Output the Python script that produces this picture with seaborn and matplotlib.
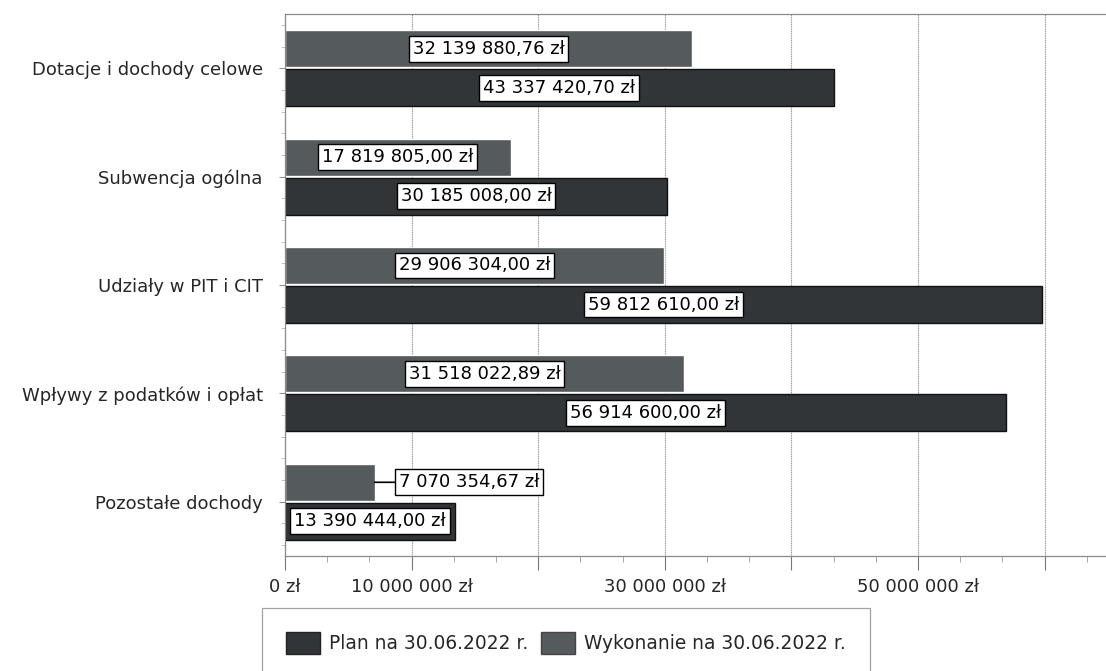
import numpy as np
import pandas as pd
import seaborn as sns
import matplotlib.pyplot as plt
import matplotlib.patches as mpatches
from matplotlib.ticker import MultipleLocator, FuncFormatter

sns.set_theme(style="white")
plt.rcParams['font.family'] = ['DejaVu Sans']

# === Data ===
categories = [
    "Dotacje i dochody celowe",
    "Subwencja ogólna",
    "Udziały w PIT i CIT",
    "Wpływy z podatków i opłat",
    "Pozostałe dochody",
]
plan = [43337420.70, 30185008.00, 59812610.00, 56914600.00, 13390444.00]
wykonanie = [32139880.76, 17819805.00, 29906304.00, 31518022.89, 7070354.67]

plan_name = "Plan na 30.06.2022 r."
wyk_name = "Wykonanie na 30.06.2022 r."
xtick_labeled = [0, 10000000, 30000000, 50000000]

df = pd.DataFrame({
    "Kategoria": categories * 2,
    "Seria": [wyk_name] * len(categories) + [plan_name] * len(categories),
    "Kwota": wykonanie + plan,
})

colors = {wyk_name: "#555a5c", plan_name: "#313538"}


def fmt_zl(v):
    s = f"{v:,.2f}".replace(",", " ").replace(".", ",")
    return s + " zł"


# === Figure ===
fig = plt.figure(figsize=(11.06, 6.71), dpi=100)
ax = fig.add_axes([285 / 1106, 1 - 556 / 671, 1 - 285 / 1106, (556 - 14) / 671])

sns.barplot(
    data=df, y="Kategoria", x="Kwota", hue="Seria",
    hue_order=[wyk_name, plan_name], order=categories,
    palette=colors, orient="h", width=0.72, gap=0.05,
    legend=False, ax=ax, errorbar=None, saturation=1,
)

for bar in ax.containers[1]:
    bar.set_edgecolor("#111111")
    bar.set_linewidth(1.0)

# axes limits / ticks
ax.set_xlim(0, 64850000)
ax.xaxis.set_major_locator(MultipleLocator(10000000))
ax.xaxis.set_minor_locator(MultipleLocator(10000000 / 3))
ax.xaxis.set_major_formatter(FuncFormatter(
    lambda v, p: (f"{int(round(v)):,}".replace(",", " ") + " zł")
    if int(round(v)) in xtick_labeled else ""))
ax.yaxis.set_minor_locator(MultipleLocator(0.2))

ax.tick_params(axis="x", which="major", length=10, width=0.8, color="#777777",
               direction="out", pad=6, labelsize=13, bottom=True)
ax.tick_params(axis="x", which="minor", length=4, width=0.6, color="#999999",
               direction="out", bottom=True)
ax.tick_params(axis="y", which="major", length=4, width=0.6, color="#777777",
               direction="out", pad=12, labelsize=13, left=True)
ax.tick_params(axis="y", which="minor", length=3, width=0.5, color="#aaaaaa",
               direction="out", left=True)
ax.set_xlabel("")
ax.set_ylabel("")

ax.grid(axis="x", which="major", color="#9a9a9a", linewidth=0.8, linestyle=(0, (1, 0.6)))
ax.grid(axis="y", visible=False)
ax.set_axisbelow(True)

for side in ["top", "left", "bottom"]:
    ax.spines[side].set_color("#8a8a8a")
    ax.spines[side].set_linewidth(0.9)
ax.spines["right"].set_visible(False)

# === Data labels ===
box = dict(boxstyle="square,pad=0.22", facecolor="white", edgecolor="black", linewidth=1)

wyk_labels = [fmt_zl(v) for v in wykonanie]
wyk_labels[-1] = ""
ax.bar_label(ax.containers[0], labels=wyk_labels, label_type="center",
             fontsize=13, color="black", bbox=box)
ax.bar_label(ax.containers[1], labels=[fmt_zl(v) for v in plan], label_type="center",
             fontsize=13, color="black", bbox=box)

# short bar -> label outside with leader line
p = ax.containers[0][-1]
yc = p.get_y() + p.get_height() / 2
ax.annotate(fmt_zl(wykonanie[-1]), xy=(wykonanie[-1], yc), xytext=(14540000, yc),
            ha="center", va="center", fontsize=13, color="black", bbox=box,
            arrowprops=dict(arrowstyle="-", color="black", lw=1.2, shrinkA=0, shrinkB=0))

# === Legend ===
handles = [
    mpatches.Patch(facecolor=colors[plan_name], edgecolor="#222222", label=plan_name),
    mpatches.Patch(facecolor=colors[wyk_name], edgecolor="#444444", label=wyk_name),
]
leg = fig.legend(
    handles=handles, loc="upper left", bbox_to_anchor=(262 / 1106, 1 - 608 / 671),
    ncol=2, fontsize=13.4, frameon=True, fancybox=False, borderpad=1.3,
    handlelength=1.8, handleheight=1.4, handletextpad=0.5, columnspacing=0.7,
    borderaxespad=0,
)
leg.get_frame().set_edgecolor("#8a8a8a")
leg.get_frame().set_linewidth(0.9)

plt.savefig("out.png", dpi=100)
plt.close()
